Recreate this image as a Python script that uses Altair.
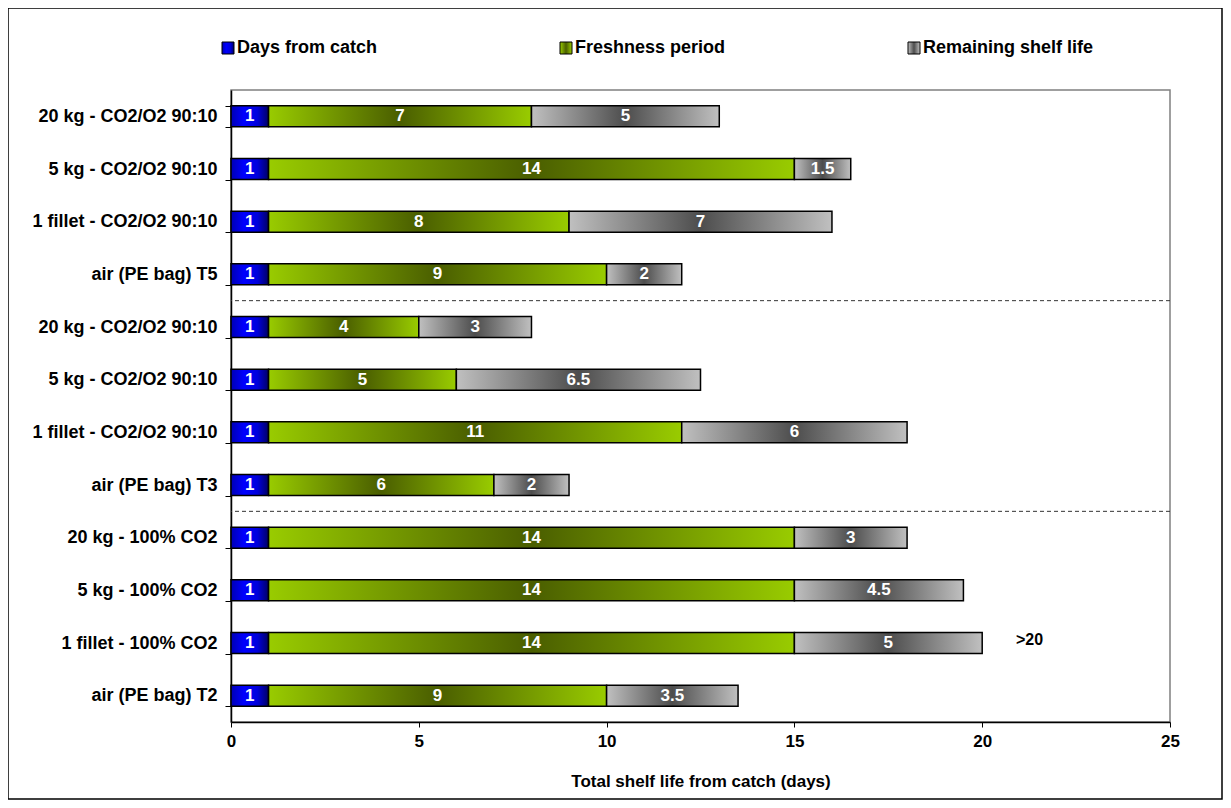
import altair as alt
import pandas as pd

row_labels = [
    "20 kg - CO2/O2 90:10",
    "5 kg - CO2/O2 90:10",
    "1 fillet - CO2/O2 90:10",
    "air (PE bag) T5",
    "20 kg - CO2/O2 90:10",
    "5 kg - CO2/O2 90:10",
    "1 fillet - CO2/O2 90:10",
    "air (PE bag) T3",
    "20 kg - 100% CO2",
    "5 kg - 100% CO2",
    "1 fillet - 100% CO2",
    "air (PE bag) T2",
]
days_from_catch = [1, 1, 1, 1, 1, 1, 1, 1, 1, 1, 1, 1]
freshness_period = [7, 14, 8, 9, 4, 5, 11, 6, 14, 14, 14, 9]
remaining_shelf_life = [5, 1.5, 7, 2, 3, 6.5, 6, 2, 3, 4.5, 5, 3.5]
series_names = ["Days from catch", "Freshness period", "Remaining shelf life"]

separator_rows = [3, 7]          # dashed separator drawn below these rows
note_rows = [10]
note_x = [20.9]
note_text = [">20"]

records = []
for i in range(len(row_labels)):
    for k, vals in enumerate([days_from_catch, freshness_period, remaining_shelf_life]):
        records.append({"row": i, "series": series_names[k], "order": k, "value": vals[i]})
df = pd.DataFrame(records)

def grad(stops):
    s = ", ".join("{offset: %s, color: '%s'}" % (o, c) for o, c in stops)
    return alt.ExprRef(expr="{gradient: 'linear', x1: 0, y1: 0, x2: 1, y2: 0, stops: [" + s + "]}")

gradients = [
    grad([(0, "#0000b4"), (0.35, "#0000ff"), (0.7, "#0000dc"), (1, "#000066")]),
    grad([(0, "#99cc00"), (0.5, "#4a5e00"), (1, "#99cc00")]),
    grad([(0, "#c0c0c0"), (0.5, "#4d4d4d"), (1, "#c0c0c0")]),
]

FONT = "Liberation Sans"
label_array = "[" + ", ".join("'" + l + "'" for l in row_labels) + "]"

PLOT_H = 632
STEP = PLOT_H / len(row_labels)

x_title = "Total shelf life from catch (days)"
x_axis = alt.Axis(values=[0, 5, 10, 15, 20, 25], grid=False, labelFontSize=17,
                  labelPadding=6, labelFlush=False, titleFontSize=17, titlePadding=24,
                  tickSize=5)
x_scale = alt.Scale(domain=[0, 25], nice=False, zero=True)
y_axis = alt.Axis(labelExpr=label_array + "[datum.value]", tickBand="extent",
                  labelFontSize=18, labelPadding=8, tickSize=6, grid=False, labelLimit=400)
y_scale = alt.Scale(paddingInner=0.6, paddingOuter=0.3)

base = alt.Chart(df).transform_stack(
    stack="value", groupby=["row"], as_=["x0", "x1"],
    sort=[alt.SortField("order", order="ascending")]
).transform_calculate(mid="(datum.x0 + datum.x1) / 2")

bars = base.mark_bar(stroke="black", strokeWidth=1.5).encode(
    x=alt.X("x0:Q", scale=x_scale, axis=x_axis, title=x_title),
    x2="x1:Q",
    y=alt.Y("row:O", scale=y_scale, axis=y_axis, title=None),
    color=alt.Color("series:N",
                    scale=alt.Scale(domain=series_names, range=gradients),
                    legend=alt.Legend(title=None, orient="none", legendX=-12, legendY=-51,
                                      direction="horizontal", columnPadding=179,
                                      symbolType="square", symbolSize=144,
                                      symbolStrokeColor="black", symbolStrokeWidth=1,
                                      labelFontSize=18, labelFontWeight="bold",
                                      labelColor="black", labelOffset=0, labelLimit=400)),
)

labels = base.mark_text(color="white", fontWeight="bold", fontSize=17, font=FONT).encode(
    x=alt.X("mid:Q", scale=x_scale, axis=x_axis, title=x_title),
    y=alt.Y("row:O", scale=y_scale, axis=y_axis, title=None),
    text=alt.Text("value:Q", format="~g"),
)

seps = alt.Chart(pd.DataFrame({"row": separator_rows})).mark_rule(
    color="#333333", strokeDash=[4, 3], strokeWidth=1, yOffset=0.3 * STEP
).encode(
    y=alt.Y("row:O", scale=y_scale, axis=y_axis, title=None, bandPosition=1),
)

notes = alt.Chart(pd.DataFrame({"row": note_rows, "x": note_x, "t": note_text})).mark_text(
    align="left", fontWeight="bold", fontSize=16, font=FONT, color="black", dy=-3
).encode(
    x=alt.X("x:Q", scale=x_scale, axis=x_axis, title=x_title),
    y=alt.Y("row:O", scale=y_scale, axis=y_axis, title=None),
    text="t:N",
)

frame = alt.Chart(pd.DataFrame({"a": [0]})).mark_rect(
    fill="transparent", stroke="black", strokeWidth=1.5
).encode(
    x=alt.value(-223), x2=alt.value(991), y=alt.value(-82), y2=alt.value(709)
)

chart = alt.layer(bars, labels, seps, notes, frame).properties(
    width=939, height=PLOT_H,
    padding={"left": 223, "top": 82, "right": 53, "bottom": 78},
    autosize=alt.AutoSizeParams(type="none"),
).configure(font=FONT).configure_view(
    stroke="#808080", strokeWidth=1.5
).configure_axis(
    domainColor="black", domainWidth=1.5, tickColor="black", tickWidth=1,
    labelFont=FONT, labelFontWeight="bold", labelColor="black",
    titleFont=FONT, titleFontWeight="bold", titleColor="black",
).configure_legend(labelFont=FONT)

chart.save("out.html", embed_options={"renderer": "svg", "actions": False})
